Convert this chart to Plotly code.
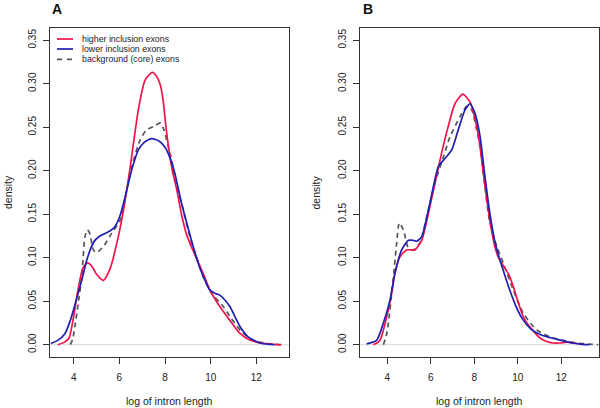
import plotly.graph_objects as go

# ---------------- data ----------------
# Panel A
a_high_x = [3.3, 3.6, 3.8, 4.0, 4.2, 4.4, 4.6, 4.8, 5.0, 5.3, 5.6, 5.95, 6.2, 6.45, 6.83, 7.12, 7.44,
            7.62, 7.8, 7.92, 8.02, 8.15, 8.32, 8.5, 8.72, 8.95, 9.23, 9.45, 9.7, 9.96, 10.2, 10.4,
            10.84, 11.28, 11.71, 12.2, 12.8, 13.1]
a_high_y = [0.0, 0.003, 0.008, 0.033, 0.065, 0.088, 0.094, 0.090, 0.081, 0.074, 0.088, 0.124, 0.158,
            0.200, 0.270, 0.304, 0.313, 0.309, 0.298, 0.280, 0.255, 0.228, 0.200, 0.180, 0.150, 0.126,
            0.108, 0.095, 0.080, 0.063, 0.052, 0.044, 0.028, 0.013, 0.0054, 0.002, 0.0005, 0.0]

a_low_x = [3.0, 3.3, 3.62, 3.85, 4.03, 4.2, 4.35, 4.57, 4.75, 4.93, 5.15, 5.37, 5.6, 5.81, 6.05, 6.25,
           6.54, 6.83, 7.1, 7.41, 7.75, 8.0, 8.2, 8.43, 8.7, 9.0, 9.23, 9.5, 9.75, 9.96, 10.2, 10.4,
           10.6, 10.84, 11.05, 11.28, 11.64, 12.15, 12.6, 12.8]
a_low_y = [0.0015, 0.005, 0.013, 0.028, 0.044, 0.060, 0.074, 0.097, 0.111, 0.120, 0.125, 0.128, 0.131,
           0.136, 0.150, 0.170, 0.201, 0.224, 0.233, 0.237, 0.234, 0.227, 0.216, 0.197, 0.165, 0.135,
           0.113, 0.090, 0.074, 0.063, 0.059, 0.057, 0.052, 0.044, 0.033, 0.021, 0.009, 0.002, 0.0003,
           0.0]

a_bg_x = [3.85, 3.95, 4.05, 4.2, 4.35, 4.49, 4.6, 4.7, 4.86, 5.0, 5.3, 5.66, 6.03, 6.3, 6.6, 6.9, 7.19,
          7.5, 7.8, 7.95, 8.14, 8.29, 8.5, 8.8, 9.09, 9.38, 9.67, 10.04, 10.55, 10.91, 11.35, 11.86,
          12.59, 13.2]
a_bg_y = [0.0, 0.006, 0.021, 0.048, 0.078, 0.124, 0.132, 0.128, 0.109, 0.106, 0.113, 0.128, 0.143,
          0.175, 0.210, 0.235, 0.247, 0.251, 0.255, 0.247, 0.228, 0.212, 0.185, 0.155, 0.124, 0.101,
          0.078, 0.059, 0.044, 0.030, 0.015, 0.005, 0.001, 0.0]

# Panel B
b_high_x = [3.36, 3.66, 3.97, 4.2, 4.35, 4.58, 4.89, 5.27, 5.58, 5.96, 6.42, 6.8, 7.11, 7.47, 7.8, 8.11,
            8.26, 8.45, 8.7, 8.95, 9.15, 9.35, 9.6, 9.8, 10.0, 10.25, 10.5, 10.71, 11.0, 11.3, 11.6,
            11.94, 12.25, 12.6, 13.0]
b_high_y = [0.0, 0.005, 0.032, 0.059, 0.082, 0.101, 0.109, 0.109, 0.120, 0.159, 0.212, 0.251, 0.277,
            0.288, 0.279, 0.251, 0.228, 0.190, 0.145, 0.112, 0.098, 0.090, 0.080, 0.066, 0.050, 0.032,
            0.022, 0.016, 0.008, 0.004, 0.002, 0.002, 0.003, 0.002, 0.0]

b_low_x = [3.05, 3.51, 3.82, 4.12, 4.35, 4.66, 4.97, 5.2, 5.35, 5.58, 5.96, 6.35, 6.65, 6.96, 7.26,
           7.57, 7.8, 8.03, 8.26, 8.49, 8.72, 8.95, 9.18, 9.4, 9.64, 9.9, 10.2, 10.6, 11.0, 11.5, 12.0,
           12.5, 13.0, 13.3]
b_low_y = [0.001, 0.005, 0.025, 0.051, 0.082, 0.109, 0.120, 0.120, 0.119, 0.124, 0.163, 0.205, 0.214,
           0.224, 0.247, 0.270, 0.277, 0.266, 0.240, 0.193, 0.150, 0.118, 0.097, 0.080, 0.062, 0.045,
           0.030, 0.018, 0.012, 0.008, 0.005, 0.002, 0.0003, 0.0]

b_bg_x = [3.82, 3.95, 4.05, 4.28, 4.43, 4.55, 4.74, 4.97, 5.2, 5.5, 5.81, 6.19, 6.58, 6.88, 7.34, 7.65,
          7.88, 8.11, 8.26, 8.45, 8.7, 9.03, 9.33, 9.79, 10.25, 10.87, 11.48, 12.09, 12.71, 13.7]
b_bg_y = [0.0, 0.010, 0.025, 0.078, 0.117, 0.140, 0.132, 0.111, 0.109, 0.117, 0.147, 0.186, 0.216,
          0.239, 0.262, 0.274, 0.270, 0.247, 0.228, 0.190, 0.142, 0.113, 0.094, 0.063, 0.036, 0.017,
          0.009, 0.005, 0.002, 0.0]

series_names = ["higher inclusion exons", "lower inclusion exons", "background (core) exons"]
x_ticks = [4, 6, 8, 10, 12]
y_ticks = [0.0, 0.05, 0.10, 0.15, 0.20, 0.25, 0.30, 0.35]
panel_labels = ["A", "B"]
x_title = "log of intron length"
y_title = "density"

# ---------------- styling ----------------
RED = "#F2134A"
BLUE = "#1F1FB4"
GREY = "#555555"
FONT = "Liberation Sans, Arial, sans-serif"
W, H = 600, 408

def px_x(p):
    return p / W

def px_y(p):
    return 1 - p / H

fig = go.Figure()

panels = [
    ("x", "y", a_high_x, a_high_y, a_low_x, a_low_y, a_bg_x, a_bg_y),
    ("x2", "y2", b_high_x, b_high_y, b_low_x, b_low_y, b_bg_x, b_bg_y),
]
for xa, ya, hx, hy, lx, ly, bx, by in panels:
    fig.add_trace(go.Scatter(x=bx, y=by, mode="lines", xaxis=xa, yaxis=ya, name=series_names[2],
                             line=dict(color=GREY, width=1.7, dash="5px,4px", shape="spline", smoothing=0.6),
                             showlegend=False, hoverinfo="skip"))
    fig.add_trace(go.Scatter(x=hx, y=hy, mode="lines", xaxis=xa, yaxis=ya, name=series_names[0],
                             line=dict(color=RED, width=1.7, shape="spline", smoothing=0.6),
                             showlegend=False, hoverinfo="skip"))
    fig.add_trace(go.Scatter(x=lx, y=ly, mode="lines", xaxis=xa, yaxis=ya, name=series_names[1],
                             line=dict(color=BLUE, width=1.7, shape="spline", smoothing=0.6),
                             showlegend=False, hoverinfo="skip"))

ydom = [px_y(357), px_y(28)]
axis_common = dict(showgrid=False, zeroline=False, showline=True, mirror=True, linecolor="#333333",
                   linewidth=1, ticks="outside", ticklen=6, tickcolor="#333333", tickwidth=1,
                   tickfont=dict(family=FONT, size=10, color="#222222"))

fig.update_layout(
    width=W, height=H, margin=dict(l=0, r=0, t=0, b=0),
    paper_bgcolor="white", plot_bgcolor="white", showlegend=False,
    xaxis=dict(domain=[px_x(50), px_x(289)], range=[2.96, 13.43], tickvals=x_ticks, anchor="y",
               ticklabelstandoff=5, **axis_common),
    yaxis=dict(domain=ydom, range=[-0.0141, 0.3641], tickvals=y_ticks, tickformat=".2f", tickangle=-90,
               anchor="x", ticklabelstandoff=3, **axis_common),
    xaxis2=dict(domain=[px_x(360), px_x(599)], range=[2.745, 13.73], tickvals=x_ticks, anchor="y2",
                ticklabelstandoff=5, **axis_common),
    yaxis2=dict(domain=ydom, range=[-0.0141, 0.3641], tickvals=y_ticks, tickformat=".2f", tickangle=-90,
                anchor="x2", ticklabelstandoff=3, **axis_common),
)

shapes = []
# grey zero baselines
for xr, yr in [("x domain", "y"), ("x2 domain", "y2")]:
    shapes.append(dict(type="line", xref=xr, yref=yr, x0=0, x1=1, y0=0, y1=0,
                       line=dict(color="#D6D6D6", width=1), layer="below"))
# manual legend keys
legend_rows = [39, 49, 59.3]
legend_styles = [dict(color=RED, width=1.7), dict(color=BLUE, width=1.7), dict(color=GREY, width=1.7, dash="5px,5px")]
for yy, st in zip(legend_rows, legend_styles):
    shapes.append(dict(type="line", xref="paper", yref="paper", x0=px_x(57), x1=px_x(73),
                       y0=px_y(yy), y1=px_y(yy), line=st))
fig.update_layout(shapes=shapes)

ann = []
for name, yy in zip(series_names, legend_rows):
    ann.append(dict(text=name, xref="paper", yref="paper", x=px_x(80), y=px_y(yy), xanchor="left",
                    yanchor="middle", showarrow=False, font=dict(family=FONT, size=8.8, color="#222222")))
# panel labels
for lab, xx in zip(panel_labels, [50, 361]):
    ann.append(dict(text="<b>%s</b>" % lab, xref="paper", yref="paper", x=px_x(xx), y=px_y(9),
                    xanchor="left", yanchor="middle", showarrow=False,
                    font=dict(family=FONT, size=14, color="#111111")))
# axis titles
for cx in [169.5, 479.5]:
    ann.append(dict(text=x_title, xref="paper", yref="paper", x=px_x(cx), y=px_y(401), xanchor="center",
                    yanchor="middle", showarrow=False, font=dict(family=FONT, size=10.5, color="#222222")))
for cx in [7.5, 315]:
    ann.append(dict(text=y_title, xref="paper", yref="paper", x=px_x(cx), y=px_y(192.5), xanchor="center",
                    yanchor="middle", textangle=-90, showarrow=False,
                    font=dict(family=FONT, size=10.5, color="#222222")))
fig.update_layout(annotations=ann)

fig.write_html("out.html", config={"displayModeBar": False},
               post_script="document.body.style.margin='0';document.body.style.overflow='hidden';")
